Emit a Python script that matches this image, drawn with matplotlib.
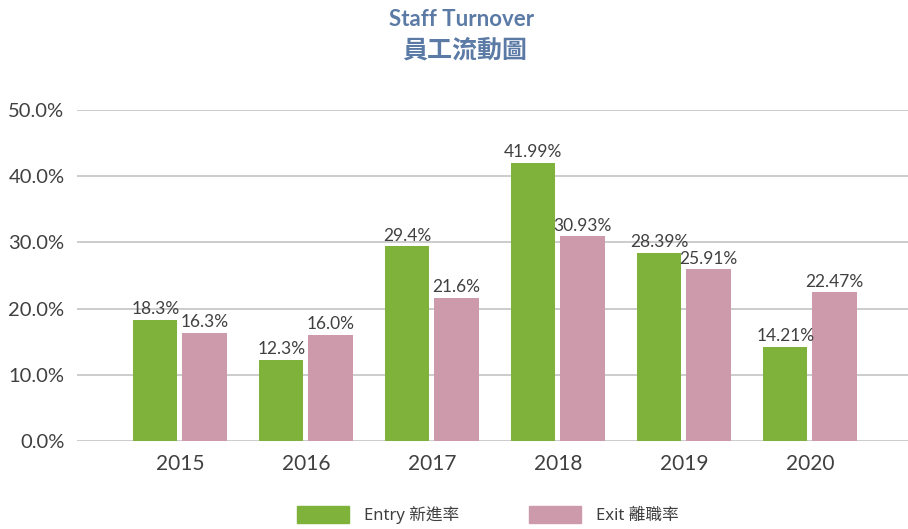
import numpy as np
import matplotlib.pyplot as plt
from matplotlib.patches import Patch

plt.rcParams['font.family'] = ['Lato', 'Noto Sans CJK TC', 'DejaVu Sans']

years = ["2015", "2016", "2017", "2018", "2019", "2020"]
entry = [18.3, 12.3, 29.4, 41.99, 28.39, 14.21]
exit_ = [16.3, 16.0, 21.6, 30.93, 25.91, 22.47]
entry_labels = ["18.3%", "12.3%", "29.4%", "41.99%", "28.39%", "14.21%"]
exit_labels = ["16.3%", "16.0%", "21.6%", "30.93%", "25.91%", "22.47%"]
yticks = [0, 10, 20, 30, 40, 50]

GREEN = "#7fb23a"
PINK = "#cc9aab"
TXT = "#404040"

fig = plt.figure(figsize=(9.08, 5.29), dpi=100)
ax = fig.add_axes([77 / 908, 88 / 529, 831 / 908, 331 / 529])

x = np.arange(len(years))
w = 0.35
ax.bar(x - 0.195, entry, w, color=GREEN, zorder=3)
ax.bar(x + 0.195, exit_, w, color=PINK, zorder=3)

for xi, v, lab in zip(x, entry, entry_labels):
    ax.text(xi - 0.195, v + 0.4, lab, ha="center", va="bottom", fontsize=12.5, color=TXT)
for xi, v, lab in zip(x, exit_, exit_labels):
    ax.text(xi + 0.195, v + 0.4, lab, ha="center", va="bottom", fontsize=12.5, color=TXT)

ax.set_xlim(-0.817, 5.778)
ax.set_ylim(0, 50)
ax.set_yticks(yticks)
ax.set_yticklabels([f"{t:.1f}%" for t in yticks], fontsize=14.5, color=TXT)
ax.set_xticks(x)
ax.set_xticklabels(years, fontsize=15, color=TXT)
ax.tick_params(axis="both", length=0)
ax.tick_params(axis="y", pad=9)
ax.tick_params(axis="x", pad=9)
ax.yaxis.grid(True, color="#c8c8c8", linewidth=1.3, zorder=0)
ax.set_axisbelow(True)
for s in ax.spines.values():
    s.set_visible(False)

fig.text(462 / 908, 1 - 19 / 529, "Staff Turnover", ha="center", va="center",
         fontsize=16, fontweight="bold", color="#5b7aa5")
fig.text(465 / 908, 1 - 50 / 529, "員工流動圖", ha="center", va="center",
         fontsize=18, fontweight="bold", color="#5b7aa5")

handles = [Patch(color=GREEN, label="Entry 新進率"), Patch(color=PINK, label="Exit 離職率")]
leg = fig.legend(handles=handles, loc="center", bbox_to_anchor=(488 / 908, 14 / 529),
                 ncol=2, frameon=False, handlelength=3.1, handleheight=1.2,
                 handletextpad=0.9, columnspacing=4.2,
                 prop={"family": ["Noto Sans", "Noto Sans CJK TC"], "size": 12})
for t in leg.get_texts():
    t.set_color(TXT)

fig.savefig("out.png", dpi=100)
